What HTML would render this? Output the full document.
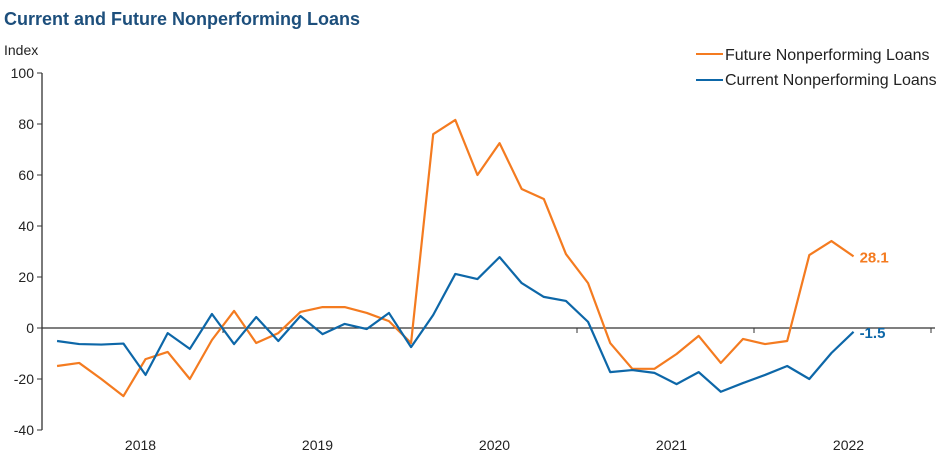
<!DOCTYPE html>
<html><head><meta charset="utf-8"><style>
body{margin:0;background:#fff;font-family:"Liberation Sans",Arial,sans-serif}
</style></head><body>
<svg width="941" height="469" xmlns="http://www.w3.org/2000/svg" font-family="Liberation Sans, Arial, sans-serif">
<text x="4" y="25" font-size="18" font-weight="bold" fill="#1d4f7c">Current and Future Nonperforming  Loans</text>
<text x="4" y="55" font-size="14" fill="#222">Index</text>
<g id="axes"></g>
<g id="series"></g>
<g>
<line x1="696" y1="54" x2="723" y2="54" stroke="#f47b20" stroke-width="2"/>
<text x="725" y="60" font-size="16" fill="#222">Future Nonperforming Loans</text>
<line x1="696" y1="80" x2="723" y2="80" stroke="#0d67a8" stroke-width="2"/>
<text x="725" y="85" font-size="16" fill="#222">Current Nonperforming Loans</text>
</g>
</svg>
<script>
const years=["2018","2019","2020","2021","2022"];
const yTicks=[100,80,60,40,20,0,-20,-40];
const future=[-14.9,-13.7,-20,-26.7,-12.2,-9.4,-20,-4.7,6.7,-5.9,-2,6.3,8.2,8.2,5.9,2.7,-5.9,76,81.6,60,72.5,54.5,50.6,29,17.6,-5.9,-16,-16,-10.2,-3.1,-13.7,-4.3,-6.3,-5.1,28.6,34.1,28.1];
const current=[-5.1,-6.3,-6.5,-6.1,-18.4,-2,-8.2,5.5,-6.3,4.3,-5.1,4.7,-2.4,1.6,-0.4,5.9,-7.5,5.1,21.2,19.2,27.8,17.6,12.2,10.6,2.4,-17.3,-16.5,-17.6,-22,-17.3,-25,-21.6,-18.4,-14.9,-20,-9.8,-1.5];
const ns="http://www.w3.org/2000/svg";
const x0=46,yearW=177,perYear=8;
function xs(i){return x0+yearW/perYear*(i+0.5);}
function ys(v){return 328-v*2.55;}
function mk(tag,attrs,parent){const e=document.createElementNS(ns,tag);for(const k in attrs)e.setAttribute(k,attrs[k]);parent.appendChild(e);return e;}
const ax=document.getElementById('axes');
let l=mk('line',{x1:42,y1:ys(100),x2:42,y2:ys(-40),stroke:'#333','stroke-width':1.3},ax);


yTicks.forEach(v=>{
 let t=mk('line',{x1:37,y1:ys(v),x2:42,y2:ys(v),stroke:'#333'},ax);
 
 
 let tx=mk('text',{x:34,y:ys(v)+5,'font-size':14,'text-anchor':'end',fill:'#222'},ax);
 tx.textContent=v;
 
 
});
l=mk('line',{x1:42,y1:ys(0),x2:935,y2:ys(0),stroke:'#333','stroke-width':1.3},ax);


for(let k=1;k<=years.length;k++){
 let t=mk('line',{x1:x0+k*yearW,y1:ys(0),x2:x0+k*yearW,y2:ys(0)+5,stroke:'#333'},ax);
 
 
}
years.forEach((y,k)=>{
 let tx=mk('text',{x:x0+yearW*(k+0.5)+6,y:450,'font-size':14,'text-anchor':'middle',fill:'#222'},ax);
 tx.textContent=y;
 
 
});
const sg=document.getElementById('series');
function line(data,color,name,label){
 const p=mk('polyline',{points:data.map((v,i)=>xs(i)+','+ys(v)).join(' '),fill:'none',stroke:color,'stroke-width':2.2,'stroke-linejoin':'round'},sg);
 
 
 const n=data.length-1;
 const t=mk('text',{x:xs(n)+6,y:ys(data[n])+6,'font-size':15,'font-weight':'bold',fill:color},sg);
 t.textContent=label;
 
 
}
line(future,'#f47b20','future-line',future[future.length-1].toFixed(1));
line(current,'#0d67a8','current-line',current[current.length-1].toFixed(1));
</script>
</body></html>
